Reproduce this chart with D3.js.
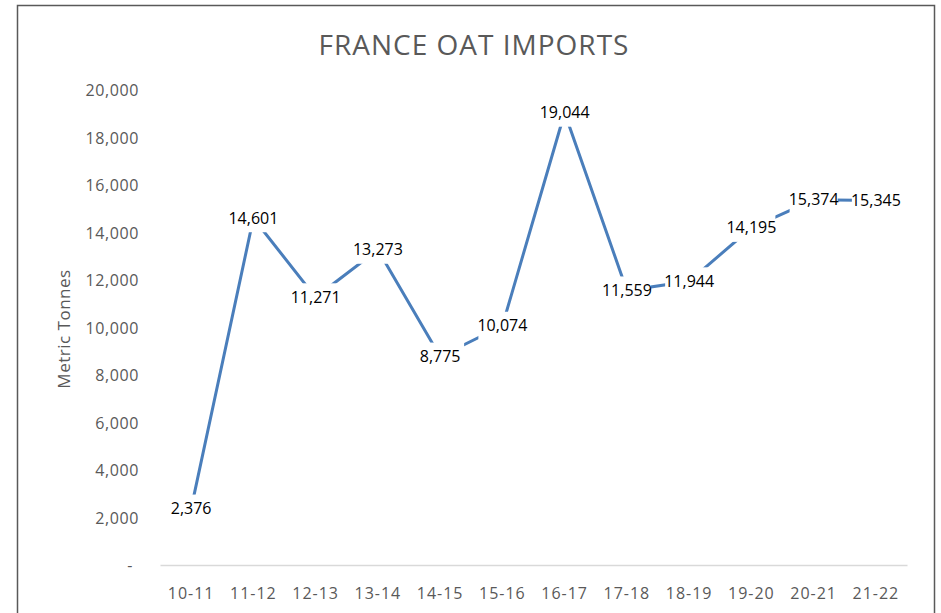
<!DOCTYPE html>
<html>
<head>
<meta charset="utf-8">
<script src="https://cdn.jsdelivr.net/npm/d3@7"></script>
<style>
  body { margin: 0; background: #fff; }
</style>
</head>
<body>
<div class="chart"></div>
<script>
// marketing years and imports (metric tonnes)
var years = ["10-11", "11-12", "12-13", "13-14", "14-15", "15-16",
             "16-17", "17-18", "18-19", "19-20", "20-21", "21-22"];
var imports = [2376, 14601, 11271, 13273, 8775, 10074,
               19044, 11559, 11944, 14195, 15374, 15345];
var yTicks = [0, 2000, 4000, 6000, 8000, 10000, 12000, 14000, 16000, 18000, 20000];

var svgWidth = 941;
var svgHeight = 613;

var svg = d3.select(".chart")
  .append("svg")
  .attr("width", svgWidth)
  .attr("height", svgHeight);

// chart frame
svg.append("rect")
  .attr("x", 17.5)
  .attr("y", 5.5)
  .attr("width", 917)
  .attr("height", 620)
  .attr("fill", "none")
  .attr("stroke", "#595959")
  .attr("stroke-width", 1.5);

var x = d3.scaleBand().domain(years).range([160, 907]);
var y = d3.scaleLinear().domain([0, 20000]).range([565, 90]);

var fmt = d3.format(",");

// y axis labels, no line
var yAxis = svg.append("g")
  .attr("transform", "translate(139,0)")
  .call(d3.axisLeft(y).tickValues(yTicks).tickSize(0)
    .tickFormat(function (d) { return d === 0 ? "-" : fmt(d); }));
yAxis.select(".domain").remove();
yAxis.selectAll("text")
  .attr("x", 0)
  .attr("dy", "0.35em")
  .style("font-family", "'Open Sans', sans-serif")
  .style("font-size", "16px")
  .style("letter-spacing", "0.6px")
  .attr("fill", "#595959");
yAxis.selectAll("text").filter(function (d) { return d === 0; })
  .attr("x", -6);

// x axis
var xAxis = svg.append("g")
  .attr("transform", "translate(0,565)")
  .call(d3.axisBottom(x).tickSize(0).tickSizeOuter(0));
xAxis.select(".domain").attr("stroke", "#d9d9d9").attr("stroke-width", 1.5);
xAxis.selectAll("text")
  .attr("y", 28)
  .attr("dy", "0.35em")
  .style("font-family", "'Open Sans', sans-serif")
  .style("font-size", "16px")
  .style("letter-spacing", "1px")
  .attr("fill", "#595959");

// title
svg.append("text")
  .attr("x", 474)
  .attr("y", 55)
  .attr("text-anchor", "middle")
  .style("font-family", "'Open Sans', sans-serif")
  .style("font-size", "28px")
  .style("letter-spacing", "1px")
  .attr("fill", "#595959")
  .text("FRANCE OAT IMPORTS");

// y axis title
svg.append("text")
  .attr("transform", "translate(70,329) rotate(-90)")
  .attr("text-anchor", "middle")
  .style("font-family", "'Open Sans', sans-serif")
  .style("font-size", "17px")
  .style("letter-spacing", "0.5px")
  .attr("fill", "#595959")
  .text("Metric Tonnes");

var cx = function (d, i) { return x(years[i]) + x.bandwidth() / 2; };

// the line
var line = d3.line()
  .x(function (d, i) { return cx(d, i); })
  .y(function (d) { return y(d); });

svg.append("path")
  .datum(imports)
  .attr("d", line)
  .attr("fill", "none")
  .attr("stroke", "#4a7ebb")
  .attr("stroke-width", 3);

// data labels centered on the points
var labels = svg.append("g")
  .selectAll("g")
  .data(imports)
  .join("g")
  .attr("transform", function (d, i) { return "translate(" + cx(d, i) + "," + y(d) + ")"; });

labels.append("rect")
  .attr("x", -24)
  .attr("y", -14)
  .attr("width", 48)
  .attr("height", 28)
  .attr("fill", "#fff");

labels.append("text")
  .attr("text-anchor", "middle")
  .attr("dy", "0.35em")
  .style("font-family", "'Open Sans', sans-serif")
  .style("font-size", "16px")
  .attr("fill", "#000")
  .text(function (d) { return fmt(d); });
</script>
</body>
</html>
